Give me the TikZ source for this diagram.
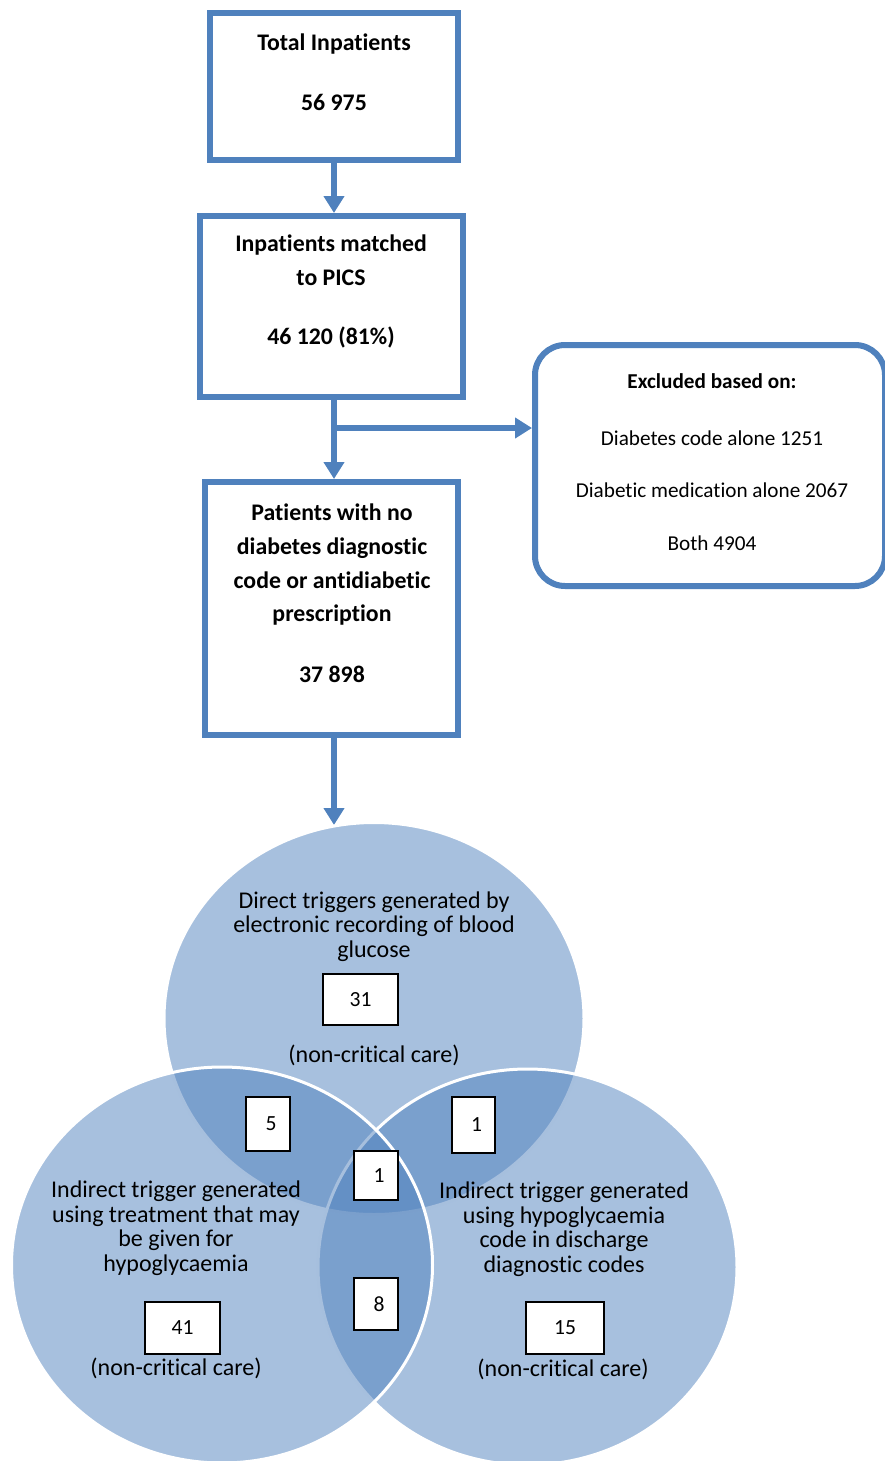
\documentclass[tikz,border=0pt]{standalone}
\usepackage{fontspec}
\setmainfont{Carlito}[RawFeature={-liga;-clig;-calt;-dlig}]
\usetikzlibrary{arrows.meta}
\definecolor{flowblue}{RGB}{79,129,189}
\begin{document}
\begin{tikzpicture}[x=0.5pt,y=-0.5pt,
  flowbox/.style={draw=flowblue, line width=3pt, fill=white, inner sep=0pt},
  flowarrow/.style={draw=flowblue, line width=3pt, -{Triangle[width=10pt,length=8.5pt]}},
  boldtxt/.style={font=\fontsize{11.9pt}{16.8pt}\selectfont\bfseries, align=center, inner sep=0pt},
  extxt/.style={font=\fontsize{10.6pt}{13pt}\selectfont, align=center, inner sep=0pt},
  venn/.style={fill=flowblue, fill opacity=0.5, draw=white, line width=1.5pt},
  venntxt/.style={font=\fontsize{12pt}{12.25pt}\selectfont, align=center, inner sep=0pt},
  countbox/.style={draw=black, line width=0.9pt, fill=white, inner sep=0pt,
    font=\fontsize{10.8pt}{13pt}\selectfont}
]
\useasboundingbox (0,0) rectangle (884,1461);

% ---- flowchart boxes ----
\node[flowbox, minimum width=124pt, minimum height=73.5pt] (b1) at (334,86.5) {};
\node[flowbox, minimum width=131.5pt, minimum height=90.5pt] (b2) at (331.5,306.5) {};
\node[flowbox, minimum width=126.5pt, minimum height=126.5pt] (b3) at (331.5,608.5) {};
\node[flowbox, rounded corners=15pt, minimum width=175pt, minimum height=120.5pt] (ex) at (710,465.5) {};

\node[boldtxt] (t1) at (334,72) {Total Inpatients\\[13.2pt]56 975};
\node[boldtxt] (t2) at (331,291.5) {Inpatients matched\\to PICS\\[12.7pt]46 120 (81\%)};
\node[boldtxt] (t3) at (332,593.5) {Patients with no\\diabetes diagnostic\\code or antidiabetic\\prescription\\[13.7pt]37 898};
\node[extxt] (tex) at (712,462) {\textbf{Excluded based on:}\\[15.5pt]Diabetes code alone 1251\\[13.25pt]Diabetic medication alone 2067\\[13.25pt]Both 4904};

% ---- connectors ----
\coordinate (split) at (334,428);
\coordinate (vtop) at (334,825);
\draw[flowarrow] (b1.south) -- (b1.south |- b2.north);
\draw[flowarrow] (b1.south |- b2.south) -- (b1.south |- b3.north);
\draw[flowarrow] (split) -- (split -| ex.west);
\draw[flowarrow] (b1.south |- b3.south) -- (vtop);

% ---- Venn diagram ----
\coordinate (ctop) at (374,1018.5);
\coordinate (cright) at (527.5,1267);
\coordinate (cleft) at (222,1265);
\path[venn] (ctop) ellipse [x radius=210, y radius=196];
\path[venn] (cright) ellipse [x radius=209.5, y radius=198];
\path[venn] (cleft) ellipse [x radius=210.5, y radius=198];

\node[venntxt] (vt1) at (374,926.5) {Direct triggers generated by\\electronic recording of blood\\glucose};
\node[venntxt] (vt2) at (374,1055) {(non-critical care)};
\node[venntxt] (vl1) at (176,1228) {Indirect trigger generated\\using treatment that may\\be given for\\hypoglycaemia};
\node[venntxt] (vl2) at (176,1368) {(non-critical care)};
\node[venntxt] (vr1) at (564,1229) {Indirect trigger generated\\using hypoglycaemia\\code in discharge\\diagnostic codes};
\node[venntxt] (vr2) at (563,1369) {(non-critical care)};

\node[countbox, minimum width=37.5pt, minimum height=25.5pt] (n31) at (360.5,999.5) {31};
\node[countbox, minimum width=22pt, minimum height=27pt] (n5) at (268,1124) {\hspace{3pt}5};
\node[countbox, minimum width=21.5pt, minimum height=28pt] (n1a) at (473.5,1125) {\hspace{3pt}1};
\node[countbox, minimum width=22pt, minimum height=24.5pt] (n1b) at (376,1175.5) {\hspace{3pt}1};
\node[countbox, minimum width=22pt, minimum height=26pt] (n8) at (376,1304) {\hspace{3pt}8};
\node[countbox, minimum width=37.5pt, minimum height=26pt] (n41) at (182.5,1328) {41};
\node[countbox, minimum width=39pt, minimum height=26pt] (n15) at (565,1328) {15};
\end{tikzpicture}
\end{document}
